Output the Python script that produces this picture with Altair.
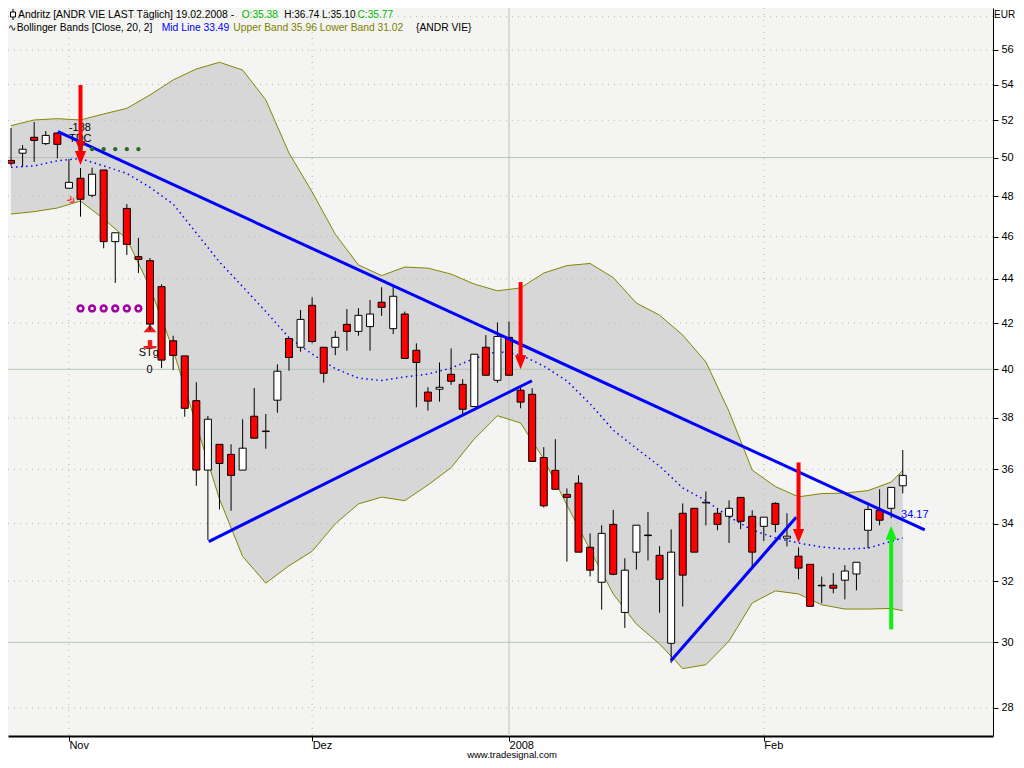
import altair as alt
import pandas as pd

# ---------------- candle data (Oct 25 2007 .. Feb 19 2008, trading days) ----------------
opens = [49.85, 50.23, 51.08, 50.74, 51.31, 48.41, 48.92, 48.05, 49.35, 45.76,
         47.39, 45.04, 44.85, 43.64, 41.22, 40.57, 38.70, 35.97, 36.96, 36.57,
         35.97, 38.07, 37.48, 38.72, 41.32, 40.94, 42.79, 40.94, 40.94, 41.94,
         41.63, 41.84, 42.93, 41.75, 42.40, 40.81, 39.05, 39.17, 39.79, 39.37,
         38.46, 40.94, 39.54, 41.37, 39.13, 38.96, 36.45, 35.96, 35.06, 35.48,
         33.16, 31.96, 33.97, 30.96, 32.99, 33.59, 32.88, 29.97, 34.37, 34.55,
         34.77, 34.37, 34.26, 34.95, 34.26, 33.90, 34.73, 33.48, 32.85, 32.57,
         31.86, 31.86, 32.03, 32.24, 33.76, 34.48, 34.55, 35.38]
highs = [51.58, 50.66, 51.91, 51.42, 51.34, 49.92, 49.45, 49.47, 49.35, 46.19,
         47.61, 45.94, 44.98, 43.75, 41.44, 40.57, 39.46, 38.08, 36.96, 36.96,
         37.95, 39.22, 38.16, 40.21, 41.32, 42.58, 43.15, 40.94, 41.65, 42.62,
         42.66, 43.03, 43.61, 43.64, 42.51, 41.11, 39.25, 40.29, 40.89, 39.59,
         40.64, 41.47, 42.03, 42.06, 39.25, 39.21, 36.85, 37.16, 35.28, 35.77,
         33.65, 33.94, 34.49, 32.78, 33.94, 34.41, 33.20, 33.79, 34.73, 34.55,
         35.17, 34.55, 34.84, 34.95, 34.48, 34.23, 34.77, 34.37, 33.16, 32.57,
         32.15, 32.27, 32.54, 32.64, 34.66, 35.25, 35.32, 36.74]
lows = [49.56, 49.52, 49.77, 50.66, 49.95, 48.41, 46.98, 47.95, 45.44, 43.81,
        45.12, 44.27, 41.69, 40.05, 39.97, 38.05, 35.38, 33.42, 34.51, 34.46,
        35.97, 37.20, 36.79, 38.21, 39.94, 40.75, 41.11, 39.44, 40.60, 40.79,
        41.44, 40.79, 42.32, 41.51, 40.46, 38.43, 38.29, 38.66, 39.35, 38.16,
        38.46, 39.75, 39.44, 39.75, 38.39, 36.30, 34.58, 35.25, 32.66, 32.99,
        32.16, 31.05, 32.20, 30.46, 32.39, 32.70, 30.95, 29.35, 31.15, 32.99,
        33.93, 33.76, 33.31, 33.80, 32.44, 33.38, 33.69, 33.19, 32.06, 31.16,
        31.26, 31.59, 31.39, 31.69, 33.13, 33.94, 34.19, 35.10]
closes = [49.70, 50.44, 50.91, 51.18, 50.70, 48.71, 47.85, 49.13, 45.76, 46.19,
          45.63, 44.91, 41.95, 40.39, 40.59, 38.39, 35.97, 37.95, 36.22, 35.77,
          36.81, 37.20, 37.46, 39.92, 40.50, 42.16, 41.19, 39.83, 41.37, 41.63,
          42.34, 42.40, 42.70, 43.20, 40.46, 40.29, 38.68, 39.25, 39.50, 38.35,
          40.64, 39.75, 41.41, 39.75, 38.64, 36.30, 34.64, 35.25, 34.95, 32.99,
          32.37, 33.65, 32.23, 32.37, 33.94, 33.57, 32.06, 32.99, 32.20, 32.99,
          34.75, 33.97, 34.55, 34.08, 32.99, 34.23, 33.97, 33.55, 32.44, 31.16,
          31.84, 31.76, 32.34, 32.64, 34.51, 34.12, 35.32, 35.77]

# month ticks (bar index of first trading day) and labels
month_ticks = [5, 26, 43, 65]
month_labels = ["Nov", "Dez", "2008", "Feb"]
price_ticks = [28, 30, 32, 34, 36, 38, 40, 42, 44, 46, 48, 50, 52, 54, 56]
grid_dotted_prices = [28, 32, 34, 36, 38, 42, 44, 46, 48, 52, 54, 56, 58]
grid_solid_prices = [30, 40, 50]
grid_dotted_months = [5, 26, 65]
grid_solid_months = [43]

# Bollinger bands (read at every second bar)
band_idx = [0, 2, 4, 6, 8, 10, 12, 14, 16, 18, 20, 22, 24, 26, 28, 30, 32, 34, 36, 38,
            40, 42, 44, 46, 48, 50, 52, 54, 56, 58, 60, 62, 64, 66, 68, 70, 72, 74, 76, 77]
band_upper = [51.71, 52.02, 52.09, 52.02, 52.35, 52.66, 53.41, 54.26, 54.89, 55.28,
              54.83, 53.13, 50.24, 48.22, 46.12, 44.65, 44.15, 44.55, 44.50, 44.22,
              43.76, 43.45, 43.58, 44.27, 44.62, 44.72, 44.06, 42.89, 42.35, 41.47,
              40.31, 38.26, 35.97, 35.35, 34.97, 35.09, 35.11, 35.20, 35.52, 35.96]
band_mid = [49.49, 49.56, 49.83, 49.95, 49.56, 49.17, 48.45, 47.61, 46.18, 44.79,
            43.64, 42.51, 41.36, 40.65, 40.03, 39.63, 39.53, 39.68, 39.80, 40.05,
            40.46, 40.76, 40.61, 40.14, 39.51, 38.57, 37.52, 36.80, 36.12, 35.30,
            34.83, 34.24, 33.77, 33.49, 33.31, 33.17, 33.10, 33.13, 33.37, 33.49]
band_lower = [47.11, 47.23, 47.41, 47.76, 46.87, 45.89, 43.60, 40.82, 37.72, 34.89,
              32.84, 31.93, 32.52, 33.02, 33.99, 34.71, 34.96, 34.83, 35.41, 36.06,
              37.17, 38.09, 37.80, 36.39, 34.67, 33.07, 31.57, 30.58, 29.95, 29.18,
              29.30, 30.04, 31.27, 31.67, 31.57, 31.21, 31.07, 31.07, 31.09, 31.02]

# trend lines (bar index, price)
trend_down_i = [4.05, 78.9]
trend_down_p = [51.38, 33.77]
trend_up1_i = [17.07, 44.98]
trend_up1_p = [33.36, 39.52]
trend_up2_i = [56.98, 67.8]
trend_up2_p = [29.42, 34.23]

# signal arrows
sell_idx = [6, 44, 68]
sell_tail = [53.97, 43.85, 36.26]
sell_tip = [49.61, 40.00, 33.31]
sell_extra_idx = [6]
sell_extra_tip = [50.24]
buy_idx = [76]
buy_tail = [30.41]
buy_tip = [33.92]

# markers
marker_idx = [6, 7, 8, 9, 10, 11]
green_dot_price = [50.44] * 6
purple_ring_price = [42.65] * 6

# text annotations
ann_text = ["-188", "TDC", "STgt", "0"]
ann_idx = [5.0, 5.0, 11.03, 11.7]
ann_price = [51.58, 50.98, 40.69, 39.99]
last_label = "34.17"
last_label_idx = 76.85
last_label_price = 34.30

header1 = ["Andritz [ANDR VIE LAST Täglich] 19.02.2008 -", "O:35.38", "H:36.74 L:35.10", "C:35.77"]
header1_colors = ["#000000", "#00b800", "#000000", "#00b800"]
header2 = ["∿", "Bollinger Bands [Close, 20, 2]", "Mid Line 33.49",
           "Upper Band 35.96 Lower Band 31.02", "{ANDR VIE}"]
header2_colors = ["#000000", "#000000", "#0000ff", "#808000", "#000000"]

# ---------------- layout ----------------
FONT = "Liberation Sans"
W, H = 985, 728
header1_x = [10, 233.7, 276.3, 349.5]
header1_size = [10.4, 10.2, 10.0, 10.2]
header2_x = [0, 8.7, 153.7, 225.3, 408]

xs = alt.Scale(domain=[0.171, 84.359], nice=False, zero=False)
ys = alt.Scale(type="log", domain=[27.18, 58.534], nice=False)

x_expr = " : ".join(f"datum.value == {t} ? '{l}'" for t, l in zip(month_ticks, month_labels)) + " : ''"
x_axis = alt.Axis(
    values=month_ticks, labelExpr=x_expr, title=None, grid=False, orient="bottom",
    domainColor="#000000", domainWidth=2, tickColor="#000000", tickSize=5,
    labelFont=FONT, labelFontSize=11, labelColor="#000000", labelAlign="left",
    labelBaseline="middle", labelPadding=4, labelFlush=False, labelOverlap=False)
y_axis = alt.Axis(
    values=price_ticks, format="d", title=None, grid=False, orient="right",
    domainColor="#000000", domainWidth=1, tickColor="#000000", tickSize=5,
    labelFont=FONT, labelFontSize=11, labelColor="#000000", labelPadding=3,
    labelOverlap=False, labelFlush=False)


def X(f):
    return alt.X(f, type="quantitative", scale=xs, axis=x_axis)


def Y(f):
    return alt.Y(f, type="quantitative", scale=ys, axis=y_axis)


candles = pd.DataFrame({"i": list(range(len(opens))), "o": opens, "h": highs,
                        "l": lows, "c": closes})
bands = pd.DataFrame({"i": band_idx, "u": band_upper, "m": band_mid, "lo": band_lower})

layers = []

# Bollinger band fill
layers.append(alt.Chart(bands).mark_area(color="#d7d7d7", opacity=1).encode(
    x=X("i"), y=Y("u"), y2="lo"))

# grid lines
layers.append(alt.Chart(pd.DataFrame({"p": grid_dotted_prices})).mark_rule(
    color="#b3bca6", strokeDash=[1, 5], strokeWidth=1).encode(y=Y("p")))
layers.append(alt.Chart(pd.DataFrame({"p": grid_solid_prices})).mark_rule(
    color="#b5c5b5", strokeWidth=1).encode(y=Y("p")))
layers.append(alt.Chart(pd.DataFrame({"i": grid_dotted_months})).mark_rule(
    color="#b3bca6", strokeDash=[1, 5], strokeWidth=1).encode(x=X("i")))
layers.append(alt.Chart(pd.DataFrame({"i": grid_solid_months})).mark_rule(
    color="#b5c5b5", strokeWidth=1).encode(x=X("i")))

# band lines
layers.append(alt.Chart(bands).mark_line(color="#858500", strokeWidth=1).encode(x=X("i"), y=Y("u")))
layers.append(alt.Chart(bands).mark_line(color="#858500", strokeWidth=1).encode(x=X("i"), y=Y("lo")))
layers.append(alt.Chart(bands).mark_line(color="#0000ff", strokeWidth=1.5,
                                         strokeDash=[1.5, 3.5]).encode(x=X("i"), y=Y("m")))

# annotations under candles
ann = pd.DataFrame({"i": ann_idx, "p": ann_price, "t": ann_text})
layers.append(alt.Chart(ann).mark_text(font=FONT, fontSize=11, align="left", baseline="middle",
                                       color="#000000").encode(x=X("i"), y=Y("p"), text="t:N"))

# STg signal marker
stg = pd.DataFrame({"i": [12.0], "p": [41.76], "s1": [41.25], "s2": [40.99],
                    "bx1": [11.45], "bx2": [12.55], "bp": [40.94]})
layers.append(alt.Chart(stg).mark_point(shape="M-1,0.6 L1,0.6 L0,-0.6 Z", size=169, filled=True,
                                        color="#ee1c1c", opacity=1).encode(x=X("i"), y=Y("p")))
layers.append(alt.Chart(stg).mark_rule(color="#ee1c1c", strokeWidth=4.5).encode(
    x=X("i"), y=Y("s1"), y2="s2"))
layers.append(alt.Chart(stg).mark_rule(color="#ee1c1c", strokeWidth=2.5).encode(
    x=X("bx1"), x2="bx2", y=Y("bp")))

# chevrons
chev = pd.DataFrame({"i": [5.26], "p": [47.86], "t": ["»"]})
layers.append(alt.Chart(chev).mark_text(font=FONT, fontSize=15, color="#ff2020", angle=35).encode(
    x=X("i"), y=Y("p"), text="t:N"))

# candle wicks
layers.append(alt.Chart(candles).mark_rule(color="#000000", strokeWidth=1).encode(
    x=X("i"), y=Y("l"), y2="h"))

# candle bodies
layers.append(alt.Chart(candles).mark_bar(size=7, stroke="#000000", strokeWidth=1, opacity=1).encode(
    x=X("i"), y=Y("o"), y2="c",
    color=alt.condition("datum.c > datum.o", alt.value("#ffffff"), alt.value("#ff0000"))))

# trend lines
for ti, tp in [(trend_down_i, trend_down_p), (trend_up1_i, trend_up1_p), (trend_up2_i, trend_up2_p)]:
    layers.append(alt.Chart(pd.DataFrame({"i": ti, "p": tp})).mark_line(
        color="#0000ff", strokeWidth=3).encode(x=X("i"), y=Y("p")))

layers.append(alt.Chart(pd.DataFrame({"i": [last_label_idx], "p": [last_label_price],
                                      "t": [last_label]})).mark_text(
    font=FONT, fontSize=11, align="left", baseline="middle", color="#0000ff").encode(
    x=X("i"), y=Y("p"), text="t:N"))

# dots and rings
layers.append(alt.Chart(pd.DataFrame({"i": marker_idx, "p": green_dot_price})).mark_point(
    shape="circle", filled=True, size=18, color="#2b6a2b", opacity=1).encode(x=X("i"), y=Y("p")))
layers.append(alt.Chart(pd.DataFrame({"i": marker_idx, "p": purple_ring_price})).mark_point(
    shape="circle", filled=False, size=34, color="#a000a0", strokeWidth=2.5, opacity=1).encode(
    x=X("i"), y=Y("p")))

# sell arrows
sell = pd.DataFrame({"i": sell_idx, "t": sell_tail, "p": sell_tip})
layers.append(alt.Chart(sell).mark_rule(color="#ff0000", strokeWidth=4, y2Offset=-10).encode(
    x=X("i"), y=Y("t"), y2="p"))
layers.append(alt.Chart(sell).mark_point(shape="M-0.8,-1 L0.8,-1 L0,1 Z", size=196, filled=True,
                                         color="#ff0000", opacity=1, yOffset=-7).encode(
    x=X("i"), y=Y("p")))
layers.append(alt.Chart(pd.DataFrame({"i": sell_extra_idx, "p": sell_extra_tip})).mark_point(
    shape="M-0.8,-1 L0.8,-1 L0,1 Z", size=144, filled=True, color="#dd0000", opacity=1,
    yOffset=-6).encode(x=X("i"), y=Y("p")))

# buy arrow
buy = pd.DataFrame({"i": buy_idx, "t": buy_tail, "p": buy_tip})
layers.append(alt.Chart(buy).mark_rule(color="#11ee11", strokeWidth=4, y2Offset=10).encode(
    x=X("i"), y=Y("t"), y2="p"))
layers.append(alt.Chart(buy).mark_point(shape="M-0.8,1 L0.8,1 L0,-1 Z", size=196, filled=True,
                                        color="#11ee11", opacity=1, yOffset=7).encode(
    x=X("i"), y=Y("p")))

# header texts
for txt, col, px, fs in zip(header1, header1_colors, header1_x, header1_size):
    layers.append(alt.Chart(pd.DataFrame({"t": [txt]})).mark_text(
        font=FONT, fontSize=fs, align="left", baseline="middle", color=col).encode(
        x=alt.value(px), y=alt.value(7), text="t:N"))
for txt, col, px in zip(header2, header2_colors, header2_x):
    layers.append(alt.Chart(pd.DataFrame({"t": [txt]})).mark_text(
        font=FONT, fontSize=10.3, align="left", baseline="middle", color=col).encode(
        x=alt.value(px), y=alt.value(19.5), text="t:N"))

# candle icon in header
icon = pd.DataFrame({"a": [0]})
layers.append(alt.Chart(icon).mark_rule(color="#000000", strokeWidth=1).encode(
    x=alt.value(5), y=alt.value(1), y2=alt.value(12)))
layers.append(alt.Chart(icon).mark_rect(fill="#ffffff", stroke="#000000", strokeWidth=1).encode(
    x=alt.value(2.5), x2=alt.value(7.5), y=alt.value(4), y2=alt.value(9)))

# currency and footer
layers.append(alt.Chart(pd.DataFrame({"t": ["EUR"]})).mark_text(
    font=FONT, fontSize=10, align="left", baseline="middle", color="#000000").encode(
    x=alt.value(986), y=alt.value(7), text="t:N"))
layers.append(alt.Chart(pd.DataFrame({"t": ["www.tradesignal.com"]})).mark_text(
    font=FONT, fontSize=9.5, align="center", baseline="middle", color="#000000").encode(
    x=alt.value(504), y=alt.value(747), text="t:N"))

chart = alt.layer(*layers).properties(
    width=W, height=H,
    padding={"left": 0, "top": 0, "right": 23, "bottom": 24},
    autosize=alt.AutoSizeParams(type="none"),
    background="#ffffff",
).configure_view(strokeWidth=0, fill="#f4f5f2")

chart.save("out.html", embed_options={"renderer": "svg", "actions": False})
